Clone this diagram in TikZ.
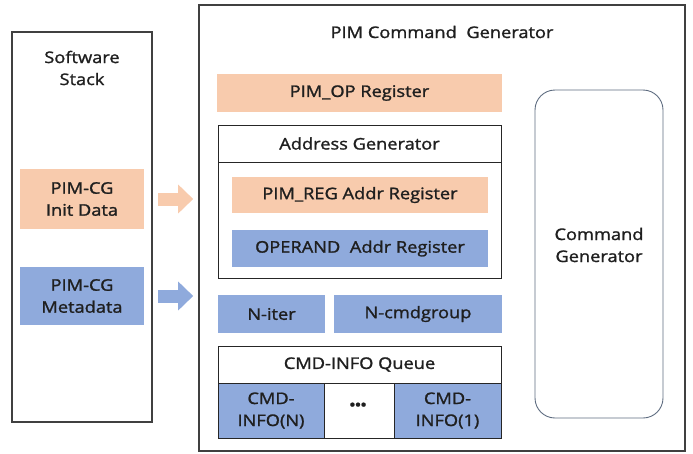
\documentclass[tikz,border=0pt]{standalone}
\usepackage{fontspec}
\setmainfont{Open Sans}[FakeStretch=1.14, FakeBold=1.4]
\usetikzlibrary{arrows.meta}

\definecolor{regorange}{HTML}{F8CBAD}
\definecolor{regblue}{HTML}{8FAADC}
\definecolor{frame}{HTML}{404040}
\definecolor{cgline}{HTML}{5E6C80}

\begin{document}
\begin{tikzpicture}[x=1pt, y=-1pt,
  font=\fontsize{16}{22}\selectfont, text=black!88,
  every node/.style={inner sep=0pt, align=center},
  outer/.style={draw=frame, line width=1.3pt},
  frm/.style={draw=black!85, line width=0.9pt},
  orangereg/.style={fill=regorange},
  bluereg/.style={fill=regblue},
  fatarrow/.style={line width=13pt, -{Triangle[length=15pt, width=28pt]}}]

\useasboundingbox (0,0) rectangle (693,453);

% software side
\node[outer, minimum width=140, minimum height=390] (sw) at (82,227) {};
\node (swtitle) at (82,68) {Software\\Stack};
\node[orangereg, minimum width=124, minimum height=60] (init) at (82,199) {PIM-CG\\Init Data};
\node[bluereg, minimum width=124, minimum height=58] (meta) at (82,296) {PIM-CG\\Metadata};

\draw[fatarrow, regorange] ([xshift=14]init.east) coordinate (a1) -- ++(35,0) coordinate (b1);
\draw[fatarrow, regblue] ([xshift=14]meta.east) coordinate (a2) -- ++(35,0) coordinate (b2);

% command generator side
\node[outer, minimum width=486, minimum height=446] (pcg) at (442,228) {};
\node (pcgtitle) at (442,32) {PIM Command\hspace{0.3em} Generator};

\node[orangereg, minimum width=285, minimum height=38] (pimop) at (359.5,93) {PIM\_OP Register};

\node[frm, minimum width=283, minimum height=153] (agen) at (359.5,201.5) {};
\node[frm, minimum width=283, minimum height=37] (agenhd) at (359.5,143.5) {Address Generator};
\node[orangereg, minimum width=256, minimum height=36] (pimreg) at (360,195) {PIM\_REG Addr Register};
\node[bluereg, minimum width=256, minimum height=37] (opnd) at (360,248.5) {OPERAND\hspace{0.3em} Addr Register};

\node[bluereg, minimum width=107, minimum height=38] (niter) at (271.5,314) {N-iter};
\node[bluereg, minimum width=168, minimum height=38] (ncmd) at (418,314) {N-cmdgroup};

\node[frm, minimum width=283, minimum height=92] (queue) at (359.5,392) {};
\node[frm, minimum width=283, minimum height=37] (queuehd) at (359.5,364.5) {CMD-INFO Queue};
\node[frm, bluereg, minimum width=106, minimum height=55] (infoN) at (271,410.5) {CMD-\\INFO(N)};
\node[frm, bluereg, minimum width=107, minimum height=55] (info1) at (447.5,410.5) {CMD-\\INFO(1)};
\node[font=\fontsize{13}{13}\selectfont\bfseries] (dots) at (358,406) {•••};

\node[draw=cgline, line width=0.9pt, rounded corners=20pt, minimum width=128, minimum height=328] (cmdgen) at (599,254) {};
\node (cmdgentxt) at (599,245) {Command\\Generator};

\end{tikzpicture}
\end{document}
